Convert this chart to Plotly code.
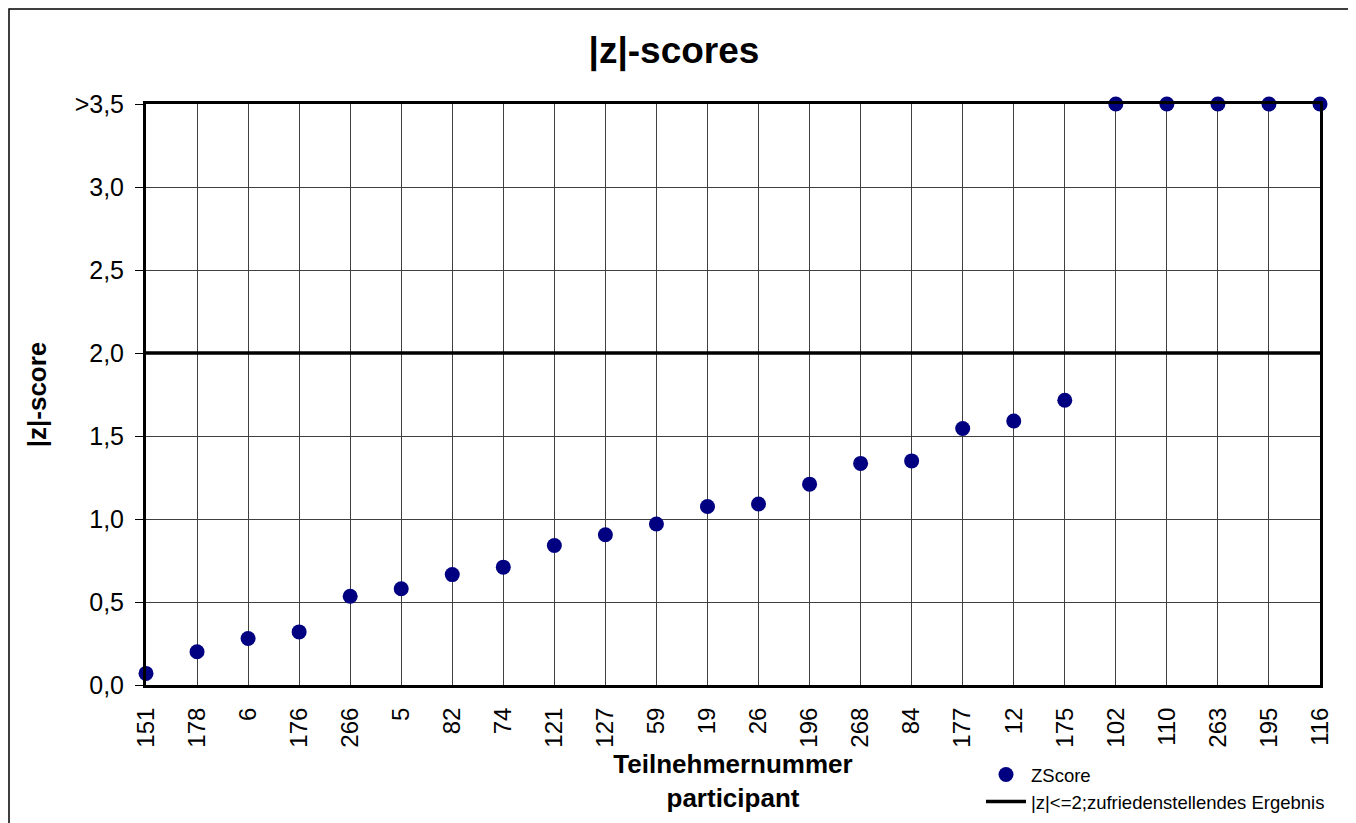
import plotly.graph_objects as go

participants = ["151", "178", "6", "176", "266", "5", "82", "74", "121", "127", "59",
                "19", "26", "196", "268", "84", "177", "12", "175", "102", "110", "263", "195", "116"]
zscores = [0.07, 0.20, 0.28, 0.32, 0.535, 0.58, 0.665, 0.71, 0.84, 0.905, 0.97,
           1.075, 1.09, 1.21, 1.335, 1.35, 1.545, 1.59, 1.715, 3.5, 3.5, 3.5, 3.5, 3.5]
threshold = 2.0
y_tickvals = [0, 0.5, 1.0, 1.5, 2.0, 2.5, 3.0, 3.5]
y_ticktext = ["0,0", "0,5", "1,0", "1,5", "2,0", "2,5", "3,0", ">3,5"]

xs = list(range(len(participants)))
n = len(participants)

# page offset (body margin) compensation
OFF = 8
W, H = 1356 - OFF, 823 - OFF
L, T = 146 - OFF, 104 - OFF
pw, ph = 1174, 581
R, B = W - L - pw, H - T - ph


def px_x(x):
    return (x - OFF - L) / pw


def px_y(y):
    return (T + ph - (y - OFF)) / ph


fig = go.Figure()
fig.add_trace(go.Scatter(
    x=xs, y=zscores, mode="markers", name="ZScore",
    marker=dict(color="#000080", size=15, line=dict(width=0)),
    cliponaxis=False,
))
fig.add_trace(go.Scatter(
    x=[xs[0], xs[-1]], y=[threshold, threshold], mode="lines",
    name="|z|<=2;zufriedenstellendes Ergebnis",
    line=dict(color="black", width=3.5),
))

fig.update_layout(
    width=W, height=H,
    margin=dict(l=L, r=R, t=T, b=B, autoexpand=False),
    paper_bgcolor="white", plot_bgcolor="white",
    font=dict(family="Liberation Sans, Arial, sans-serif", color="black"),
    title=dict(text="<b>|z|-scores</b>", x=px_x(674), xref="paper", xanchor="center",
               y=1 - (50 - OFF) / H, yanchor="middle", font=dict(size=37)),
    showlegend=True,
    legend=dict(x=px_x(981), y=px_y(756), xanchor="left", yanchor="top",
                font=dict(size=18.5), bgcolor="rgba(0,0,0,0)", itemwidth=40),
    xaxis=dict(
        range=[0, n - 1], tickmode="array", tickvals=xs, ticktext=participants,
        tickangle=-90, tickfont=dict(size=24), showgrid=True, gridcolor="#404040", gridwidth=1,
        zeroline=False, showline=True, linecolor="black", linewidth=3, mirror=True,
        ticks="", ticklabelstandoff=10, automargin=False,
        title=dict(text="<b>Teilnehmernummer<br>participant</b>", font=dict(size=26), standoff=9),
    ),
    yaxis=dict(
        range=[0, 3.5], tickmode="array", tickvals=y_tickvals, ticktext=y_ticktext,
        tickfont=dict(size=25), showgrid=True, gridcolor="#404040", gridwidth=1,
        zeroline=False, showline=True, linecolor="black", linewidth=3, mirror=True,
        ticks="outside", ticklen=8, tickcolor="black", tickwidth=1,
        ticklabelstandoff=6, automargin=False,
        title=dict(text="<b>|z|-score</b>", font=dict(size=26), standoff=21),
    ),
    shapes=[dict(type="rect", xref="paper", yref="paper",
                 x0=px_x(OFF + 1), x1=px_x(1350),
                 y0=px_y(840), y1=px_y(OFF + 1),
                 line=dict(color="black", width=1.5), fillcolor="rgba(0,0,0,0)", layer="below")],
)

fig.write_html("out.html")
